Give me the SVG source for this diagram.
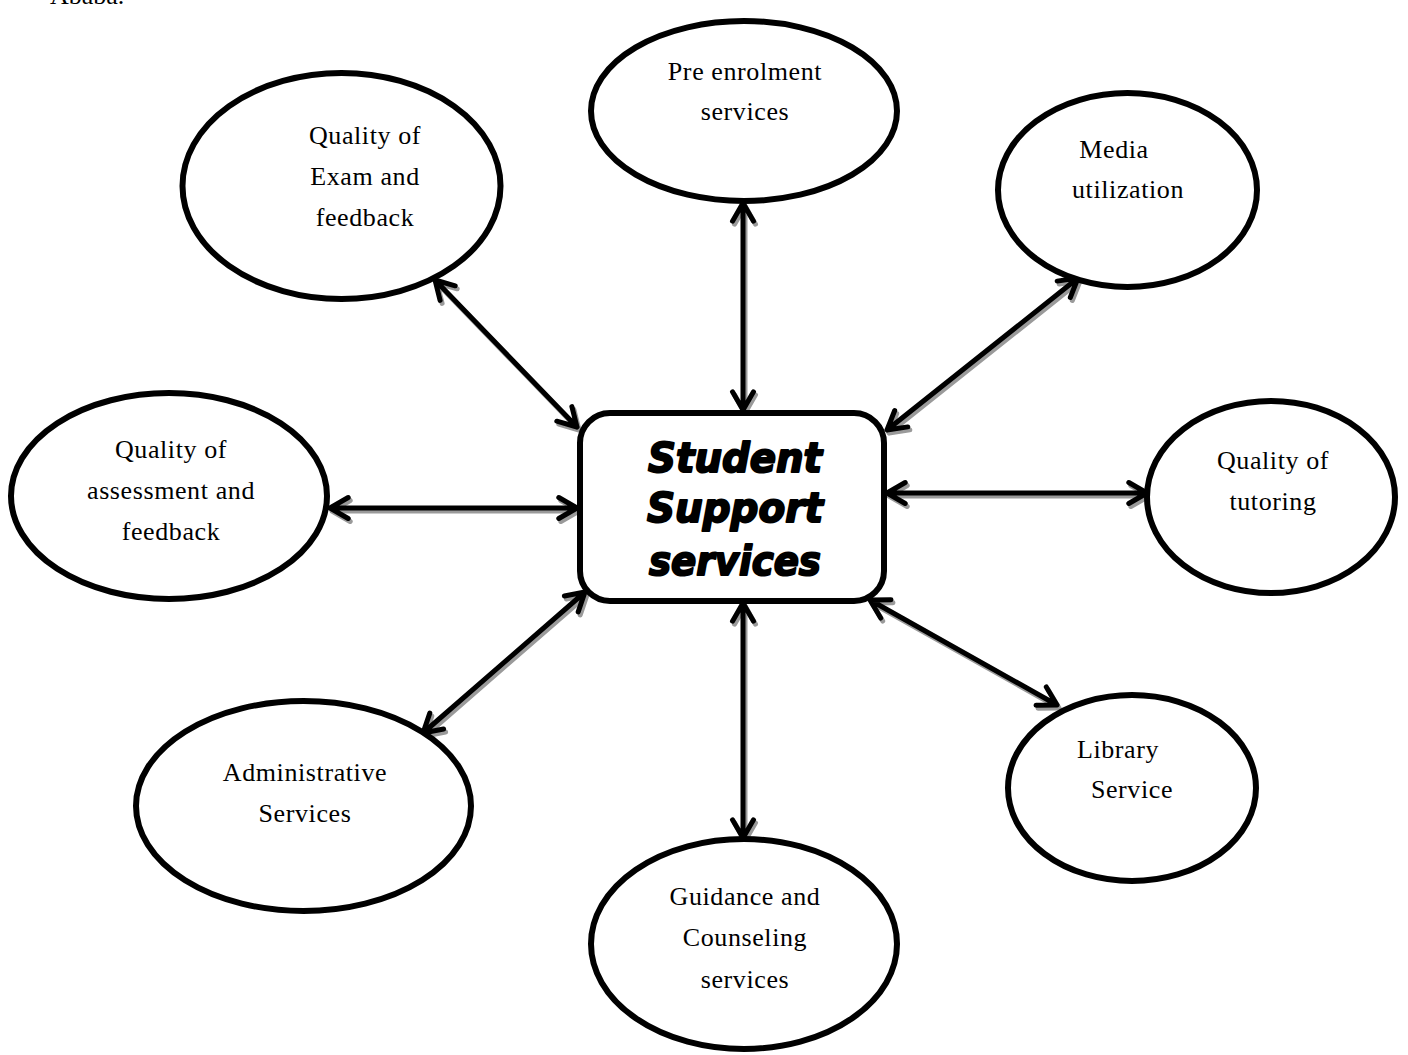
<svg xmlns="http://www.w3.org/2000/svg" xmlns:xlink="http://www.w3.org/1999/xlink" width="1408" height="1055" viewBox="0 0 1408 1055">
  <style>
    .node { fill: #ffffff; stroke: #000000; stroke-width: 6; }
    .hub { fill: #ffffff; stroke: #000000; stroke-width: 6; }
    .label { font-family: "Liberation Serif", "Times New Roman", serif; font-size: 26px; letter-spacing: 0.6px; fill: #000000; text-anchor: middle; }
    .hub-label { font-family: "DejaVu Sans", "Liberation Sans", sans-serif; font-size: 40px; font-weight: bold; font-style: italic; fill: #000000; stroke: #000000; stroke-width: 2; stroke-linejoin: round; text-anchor: middle; }
    .shadow { fill: none; stroke: #9a9a9a; stroke-width: 5; stroke-linecap: round; stroke-linejoin: round; }
    .line { fill: none; stroke: #000000; stroke-width: 5; stroke-linecap: round; stroke-linejoin: round; }
  </style>
  <defs>
    <!-- double-headed connectors: shaft plus an open chevron at each tip -->
    <path id="c-top" d="M743 203 L743 410 M732.5 221.2 L743 203 L753.5 221.2 M732.5 391.8 L743 410 L753.5 391.8"/>
    <path id="c-ul" d="M435 280 L577 427 M440.1 300.4 L435 280 L455.2 285.8 M571.9 406.6 L577 427 L556.8 421.2"/>
    <path id="c-ur" d="M1078 278 L887 430 M1057.2 281.1 L1078 278 L1070.3 297.5 M907.8 426.9 L887 430 L894.7 410.5"/>
    <path id="c-left" d="M330 508 L577 508 M348.2 497.5 L330 508 L348.2 518.5 M558.8 497.5 L577 508 L558.8 518.5"/>
    <path id="c-right" d="M887 493 L1147 493 M905.2 482.5 L887 493 L905.2 503.5 M1128.8 482.5 L1147 493 L1128.8 503.5"/>
    <path id="c-ll" d="M585 592 L423 733 M564.4 596 L585 592 L578.2 611.9 M443.6 729 L423 733 L429.8 713.1"/>
    <path id="c-bottom" d="M743 603 L743 838 M732.5 621.2 L743 603 L753.5 621.2 M732.5 819.8 L743 838 L753.5 819.8"/>
    <path id="c-lr" d="M870 600 L1057 705 M880.7 618.1 L870 600 L891 599.7 M1046.3 686.9 L1057 705 L1036 705.3"/>
  </defs>

  <rect x="0" y="0" width="1408" height="1055" fill="#ffffff"/>

  <!-- running text that continues above the top edge -->
  <text x="50" y="4" font-family="'Liberation Serif', serif" font-size="26" fill="#000000">Ababa.</text>

  <g id="connectors">
    <g transform="translate(2,3)">
      <use xlink:href="#c-top" class="shadow"/>
      <use xlink:href="#c-ul" class="shadow"/>
      <use xlink:href="#c-ur" class="shadow"/>
      <use xlink:href="#c-left" class="shadow"/>
      <use xlink:href="#c-right" class="shadow"/>
      <use xlink:href="#c-ll" class="shadow"/>
      <use xlink:href="#c-bottom" class="shadow"/>
      <use xlink:href="#c-lr" class="shadow"/>
    </g>
    <use xlink:href="#c-top" class="line"/>
    <use xlink:href="#c-ul" class="line"/>
    <use xlink:href="#c-ur" class="line"/>
    <use xlink:href="#c-left" class="line"/>
    <use xlink:href="#c-right" class="line"/>
    <use xlink:href="#c-ll" class="line"/>
    <use xlink:href="#c-bottom" class="line"/>
    <use xlink:href="#c-lr" class="line"/>
  </g>

  <g id="pre-enrolment">
    <ellipse class="node" cx="744" cy="111" rx="153" ry="90"/>
    <text class="label" x="745" y="80">Pre enrolment</text>
    <text class="label" x="745" y="120">services</text>
  </g>

  <g id="exam-feedback">
    <ellipse class="node" cx="341.5" cy="186" rx="159" ry="113"/>
    <text class="label" x="365" y="144">Quality of</text>
    <text class="label" x="365" y="185">Exam and</text>
    <text class="label" x="365" y="226">feedback</text>
  </g>

  <g id="media">
    <ellipse class="node" cx="1127.5" cy="190" rx="129.5" ry="97"/>
    <text class="label" x="1114" y="158">Media</text>
    <text class="label" x="1128" y="198">utilization</text>
  </g>

  <g id="assessment-feedback">
    <ellipse class="node" cx="169" cy="496" rx="158" ry="103"/>
    <text class="label" x="171" y="458">Quality of</text>
    <text class="label" x="171" y="499">assessment and</text>
    <text class="label" x="171" y="540">feedback</text>
  </g>

  <g id="student-support">
    <rect class="hub" x="580" y="413" width="304" height="188" rx="30" ry="30"/>
    <text class="hub-label" x="735" y="472" textLength="174" lengthAdjust="spacingAndGlyphs">Student</text>
    <text class="hub-label" x="735" y="522" textLength="176" lengthAdjust="spacingAndGlyphs">Support</text>
    <text class="hub-label" x="735" y="575" textLength="172" lengthAdjust="spacingAndGlyphs">services</text>
  </g>

  <g id="tutoring">
    <ellipse class="node" cx="1271" cy="497" rx="124" ry="96"/>
    <text class="label" x="1273" y="469">Quality of</text>
    <text class="label" x="1273" y="510">tutoring</text>
  </g>

  <g id="administrative">
    <ellipse class="node" cx="303.5" cy="806" rx="167.5" ry="105"/>
    <text class="label" x="305" y="781">Administrative</text>
    <text class="label" x="305" y="822">Services</text>
  </g>

  <g id="library">
    <ellipse class="node" cx="1132" cy="788" rx="124" ry="93"/>
    <text class="label" x="1118" y="758">Library</text>
    <text class="label" x="1132" y="798">Service</text>
  </g>

  <g id="guidance">
    <ellipse class="node" cx="744" cy="944" rx="153" ry="105"/>
    <text class="label" x="745" y="905">Guidance and</text>
    <text class="label" x="745" y="946">Counseling</text>
    <text class="label" x="745" y="988">services</text>
  </g>
</svg>
